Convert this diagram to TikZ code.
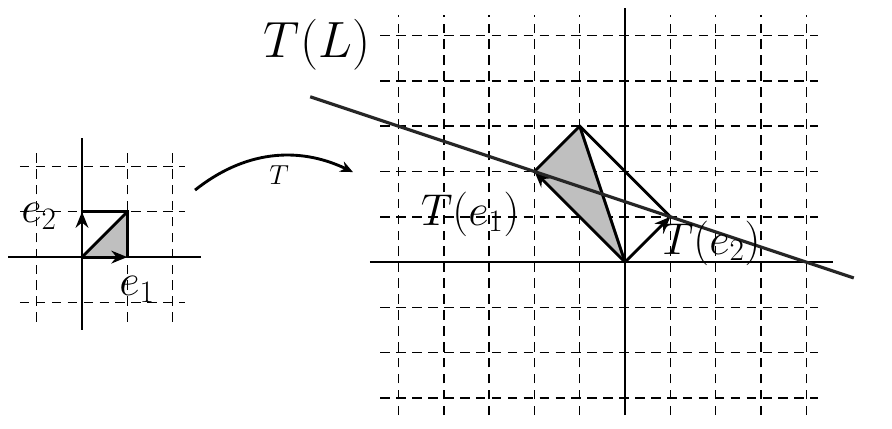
\documentclass[tikz,border=0pt]{standalone}
\usepackage{fix-cm}
\usepackage{amsmath}
\usetikzlibrary{arrows.meta,calc}

\begin{document}
\begin{tikzpicture}[>={Stealth[length=10pt,width=8pt]}, x=1cm, y=1cm]
        \tikzstyle{gridline} = [dash pattern=on 6pt off 4pt, line width=0.9pt]
        \tikzstyle{axis} = [line width=1.3pt]
        \tikzstyle{edge} = [line width=1.8pt]
        \tikzstyle{vec} = [edge, ->]
        \tikzstyle{shade} = [fill=gray!50]
        \tikzstyle{hand} = [font=\fontsize{28}{32}\selectfont, inner sep=0pt]

        \useasboundingbox (0,0) rectangle (19.69,9.45);

        % Left grid (unit square)
        \begin{scope}[shift={(1.81,3.775)}]
            \foreach \x in {-1,1,2} \draw[gridline] (\x,-1.43) -- (\x,2.3);
            \foreach \y in {-1,1,2} \draw[gridline] (-1.37,\y) -- (2.27,\y);
            \draw[axis] (-1.63,0) -- (2.63,0);
            \draw[axis] (0,-1.6) -- (0,2.63);

            \coordinate (lo) at (0,0);
            \coordinate (le1) at (1,0);
            \coordinate (le2) at (0,1);
            \coordinate (le12) at (1,1);

            \path[shade] (lo) -- (le1) -- (le12) -- cycle;
            \draw[edge] (le2) -- (le12) -- (le1);
            \draw[edge] (lo) -- (le12);
            \draw[vec] (lo) -- (le1);
            \draw[vec] (lo) -- (le2);

            \node[hand] (lble2) at (-0.95,0.905) {$e_2$};
            \node[hand] (lble1) at (1.214,-0.707) {$e_1$};
        \end{scope}

        % Map arrow
        \coordinate (tstart) at (4.305,5.254);
        \coordinate (tend) at (7.792,5.651);
        \draw[edge, -{Stealth[length=8pt,width=7pt]}] (tstart) to[bend left=32] node[pos=0.55, below=2pt, font=\LARGE] {$T$} (tend);

        % Right grid (image)
        \begin{scope}[shift={(13.797,3.664)}]
            \foreach \x in {-5,...,-1,1,2,3,4} \draw[gridline] (\x,-3.38) -- (\x,5.45);
            \foreach \y in {-3,-2,-1,1,2,3,4,5} \draw[gridline] (-5.4,\y) -- (4.26,\y);
            \draw[axis] (-5.63,0) -- (4.6,0);
            \draw[axis] (0,-3.38) -- (0,5.6);

            \coordinate (ro) at (0,0);
            \coordinate (te1) at (-2,2);
            \coordinate (te2) at (1,1);
            \coordinate (te12) at (-1,3);

            \path[shade] (ro) -- (te1) -- (te12) -- cycle;
            \draw[edge] (te1) -- (te12) -- (te2);
            \draw[edge] (ro) -- (te12);
            \draw[vec] (ro) -- (te1);
            \draw[vec] (ro) -- (te2);

            % T(L)
            \coordinate (tl1) at ($(te1)!-1.65!(te2)$);
            \coordinate (tl2) at ($(te1)!2.35!(te2)$);
            \draw[line width=2pt, black!85] (tl1) -- (tl2);

            \node[hand, font=\fontsize{32}{36}\selectfont] (lbltl) at (-6.80,4.79) {$T(L)$};
            \node[hand] (lblte1) at (-3.42,1.06) {$T(e_1)$};
            \node[hand] (lblte2) at (1.90,0.42) {$T(e_2)$};
        \end{scope}
\end{tikzpicture}
\end{document}
